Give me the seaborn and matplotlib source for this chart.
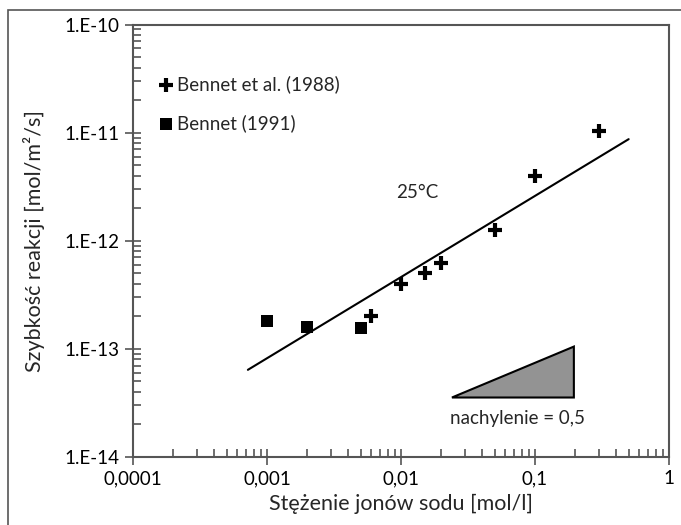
import numpy as np
import pandas as pd
import seaborn as sns
import matplotlib.pyplot as plt
from matplotlib.patches import Polygon, Rectangle
from matplotlib.ticker import LogLocator, FixedLocator, FixedFormatter, NullFormatter

# data
bennet88_x = [0.006, 0.01, 0.015, 0.02, 0.05, 0.1, 0.3]
bennet88_y = [2.0e-13, 4.0e-13, 5.0e-13, 6.2e-13, 1.26e-12, 4.0e-12, 1.04e-11]
bennet91_x = [0.001, 0.002, 0.005]
bennet91_y = [1.82e-13, 1.58e-13, 1.56e-13]
fit_x = [7.2e-4, 0.5]
fit_y = [6.4e-14, 8.7e-12]
tri_x = [0.024, 0.195, 0.195]
tri_y = [3.55e-14, 1.05e-13, 3.55e-14]

x_ticks = [1e-4, 1e-3, 1e-2, 1e-1, 1]
x_labels = ['0,0001', '0,001', '0,01', '0,1', '1']
y_ticks = [1e-14, 1e-13, 1e-12, 1e-11, 1e-10]
y_labels = ['1.E-14', '1.E-13', '1.E-12', '1.E-11', '1.E-10']

sns.set_style('ticks')
plt.rcParams['font.family'] = ['Lato', 'DejaVu Sans']

fig = plt.figure(figsize=(6.81, 5.25), dpi=100)
ax = fig.add_axes([133 / 681, 1 - 457 / 525, (669 - 133) / 681, (457 - 24.5) / 525])

df88 = pd.DataFrame({'x': bennet88_x, 'y': bennet88_y})
df91 = pd.DataFrame({'x': bennet91_x, 'y': bennet91_y})
fit = pd.DataFrame({'x': fit_x, 'y': fit_y})

sns.lineplot(data=fit, x='x', y='y', color='black', linewidth=1.5, ax=ax)
sns.scatterplot(data=df88, x='x', y='y', marker='+', s=110, linewidth=3,
                color='black', label='Bennet et al. (1988)', ax=ax, zorder=3)
sns.scatterplot(data=df91, x='x', y='y', marker='s', s=80, linewidth=0,
                color='black', label='Bennet (1991)', ax=ax, zorder=3)

ax.add_patch(Polygon(list(zip(tri_x, tri_y)), closed=True, facecolor='#939393',
                     edgecolor='black', linewidth=1.5, zorder=2))

ax.set_xscale('log')
ax.set_yscale('log')
ax.set_xlim(1e-4, 1)
ax.set_ylim(1e-14, 1e-10)

ax.xaxis.set_major_locator(FixedLocator(x_ticks))
ax.xaxis.set_major_formatter(FixedFormatter(x_labels))
ax.yaxis.set_major_locator(FixedLocator(y_ticks))
ax.yaxis.set_major_formatter(FixedFormatter(y_labels))
ax.xaxis.set_minor_locator(LogLocator(base=10, subs=np.arange(2, 10)))
ax.yaxis.set_minor_locator(LogLocator(base=10, subs=np.arange(2, 10)))
ax.xaxis.set_minor_formatter(NullFormatter())
ax.yaxis.set_minor_formatter(NullFormatter())

ax.tick_params(which='major', direction='inout', length=12, width=1.2,
               colors='#555555', labelcolor='black', labelsize=13.5)
ax.tick_params(which='minor', direction='in', length=6, width=1.2, colors='#555555')
ax.tick_params(axis='y', which='major', pad=4)

for sp in ax.spines.values():
    sp.set_color('#555555')
    sp.set_linewidth(1.5)

ax.set_xlabel('Stężenie jonów sodu [mol/l]', fontsize=15.5, labelpad=5)
ax.set_ylabel('Szybkość reakcji [mol/m²/s]', fontsize=15.5, labelpad=14)

ax.text(0.0132, 2.8e-12, '25°C', fontsize=13.5, ha='center', va='center')
ax.text(0.0735, 2.25e-14, 'nachylenie = 0,5', fontsize=13.5, ha='center', va='center')

leg = ax.legend(loc='upper left', bbox_to_anchor=(0.03, 0.9), frameon=False,
                fontsize=13.5, handletextpad=0.1, labelspacing=1.1,
                handlelength=1.0, borderaxespad=0)

# outer frame of the picture
fig.patches.append(Rectangle((8 / 681, -0.1), 1.1, 1 - 10 / 525 + 0.1,
                             transform=fig.transFigure, fill=False,
                             edgecolor='#555555', linewidth=1.2))

fig.savefig('out.png', dpi=100)
